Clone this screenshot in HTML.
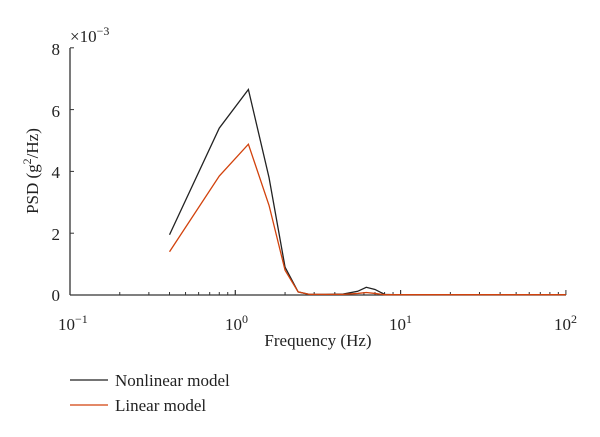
<!DOCTYPE html>
<html><head><meta charset="utf-8"><style>
body{margin:0;background:#fff}
svg text{font-family:"Liberation Serif",serif;fill:#222}
</style></head><body>
<svg width="600" height="432" xmlns="http://www.w3.org/2000/svg">
<g id="axes"></g><g id="series"></g>
<text x="60" y="55" font-size="17" text-anchor="end">8</text>
<text x="60" y="117" font-size="17" text-anchor="end">6</text>
<text x="60" y="178" font-size="17" text-anchor="end">4</text>
<text x="60" y="240" font-size="17" text-anchor="end">2</text>
<text x="60" y="301" font-size="17" text-anchor="end">0</text>
<text x="70" y="42" font-size="17">×10<tspan font-size="12" dy="-7">−3</tspan></text>
<text x="58" y="330" font-size="17">10<tspan font-size="12" dy="-7">−1</tspan></text>
<text x="225" y="330" font-size="17">10<tspan font-size="12" dy="-7">0</tspan></text>
<text x="389" y="330" font-size="17">10<tspan font-size="12" dy="-7">1</tspan></text>
<text x="554" y="330" font-size="17">10<tspan font-size="12" dy="-7">2</tspan></text>
<text x="318" y="346" font-size="17" text-anchor="middle">Frequency (Hz)</text>
<text transform="translate(38,171) rotate(-90)" font-size="17" text-anchor="middle">PSD (g<tspan font-size="12" dy="-7">2</tspan><tspan dy="7">/Hz)</tspan></text>
<line x1="70" y1="380" x2="108" y2="380" stroke="#222" stroke-width="1.3"/>
<text x="115" y="386" font-size="17">Nonlinear model</text>
<line x1="70" y1="405" x2="108" y2="405" stroke="#d2420c" stroke-width="1.3"/>
<text x="115" y="411" font-size="17">Linear model</text>
</svg>
<script>
const freqs=[0.4,0.8,1.2,1.6,2.0,2.4,2.8,3.5,4.5,5.5,6.2,7,8,9,10,20,50,100];
const nonlinear=[1.95,5.4,6.65,3.8,0.9,0.1,0.02,0.02,0.03,0.12,0.25,0.18,0.02,0.01,0.01,0.01,0.01,0.01];
const linear=[1.4,3.85,4.88,2.9,0.8,0.1,0.02,0.02,0.02,0.05,0.08,0.05,0.01,0.01,0.01,0.01,0.01,0.01];
const yTicks=[0,2,4,6,8];
const NS="http://www.w3.org/2000/svg";
const X=f=>70+(Math.log10(f)+1)*165.3;
const Y=v=>295-v*30.9;
const ax=document.getElementById('axes'),se=document.getElementById('series');
function ln(p,x1,y1,x2,y2,c,w){const l=document.createElementNS(NS,'line');l.setAttribute('x1',x1);l.setAttribute('y1',y1);l.setAttribute('x2',x2);l.setAttribute('y2',y2);l.setAttribute('stroke',c);l.setAttribute('stroke-width',w);p.appendChild(l);return l;}
let a=ln(ax,70,295,566,295,'#333',1.3);


a=ln(ax,70,48,70,295,'#333',1.3);


yTicks.forEach(t=>{const l=ln(ax,70,Y(t),74,Y(t),'#333',1);

});
for(let d=-1;d<2;d++)for(let m=1;m<=10;m++){const f=m*Math.pow(10,d);const h=(m==1||m==10)?5:3;const l=ln(ax,X(f),295,X(f),295-h,'#333',1);

}
function poly(vals,c,name){const p=document.createElementNS(NS,'polyline');p.setAttribute('points',freqs.map((f,i)=>X(f)+','+Y(vals[i])).join(' '));p.setAttribute('fill','none');p.setAttribute('stroke',c);p.setAttribute('stroke-width','1.3');


se.appendChild(p);}
poly(nonlinear,'#222','nonlinear-line');
poly(linear,'#d2420c','linear-line');
</script>
</body></html>
